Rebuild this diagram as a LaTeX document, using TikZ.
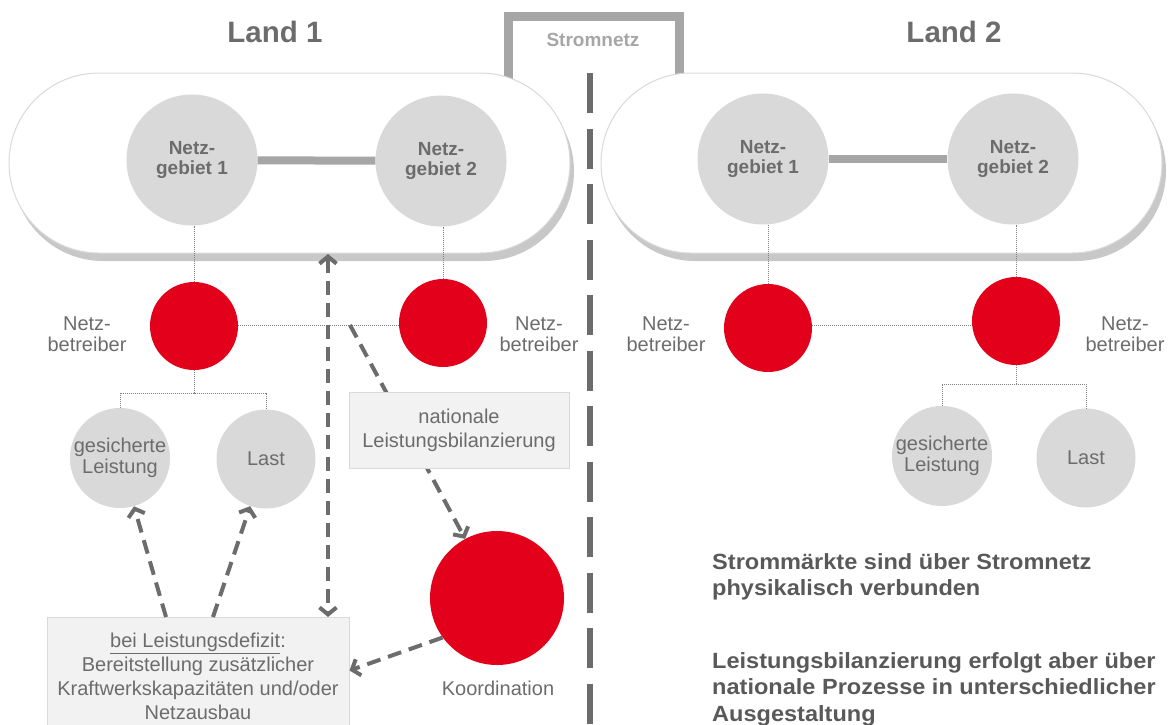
\documentclass[tikz,border=0pt]{standalone}
\usepackage{fontspec}
\setmainfont{Liberation Sans}
\newfontfamily\widebold[FakeStretch=1.07]{Liberation Sans Bold}
\usetikzlibrary{arrows.meta,shadows}
\definecolor{cred}{RGB}{227,0,26}
\definecolor{cgray}{RGB}{217,217,217}
\definecolor{bargray}{RGB}{166,166,166}
\definecolor{tgray}{RGB}{108,108,108}
\definecolor{dgray}{RGB}{108,108,108}
\definecolor{boxfill}{RGB}{242,242,242}
\definecolor{boxline}{RGB}{217,217,217}
\definecolor{shgray}{RGB}{200,200,200}
\definecolor{dotgray}{RGB}{128,128,128}
\definecolor{btext}{RGB}{89,89,89}
\begin{document}
\begin{tikzpicture}[x=1pt,y=-1pt,
  >={Straight Barb[length=7pt,width=17pt]},
  ttl/.style={font=\fontsize{29.5}{32}\selectfont\bfseries, text=tgray, inner sep=0pt},
  strtxt/.style={font=\fontsize{19}{21}\selectfont\bfseries, text=bargray, inner sep=0pt},
  pillbox/.style={draw=boxline, line width=1pt, fill=white, rounded corners=90pt,
    minimum width=561pt, minimum height=180pt, inner sep=0pt,
    drop shadow={shadow xshift=4pt, shadow yshift=-8pt, fill=shgray, opacity=1}},
  ng/.style={circle, fill=cgray, minimum size=131pt, inner sep=0pt, align=center,
    text=tgray, font=\fontsize{19}{20}\selectfont\bfseries},
  nb/.style={circle, fill=cred, minimum size=88pt, inner sep=0pt},
  gl/.style={circle, fill=cgray, minimum size=99pt, inner sep=0pt, align=center,
    text=tgray, font=\fontsize{20}{21}\selectfont},
  lbl/.style={font=\fontsize{20}{21.5}\selectfont, text=tgray, align=center, inner sep=0pt},
  nbox/.style={fill=boxfill, draw=boxline, line width=1pt, align=center, inner sep=0pt,
    text=tgray, font=\fontsize{20}{24}\selectfont},
  rtext/.style={font=\widebold\fontsize{22}{26.5}\selectfont, text=btext, align=left, inner sep=0pt},
  bracket/.style={draw=bargray, line width=9pt, line join=miter},
  bar/.style={draw=bargray, line width=8pt},
  midline/.style={draw=dgray, line width=6pt, dash pattern=on 40pt off 15.5pt},
  dotl/.style={draw=dotgray, line width=1pt, dash pattern=on 1pt off 1pt},
  darr/.style={draw=dgray, line width=4pt, dash pattern=on 14pt off 8pt}
]
\useasboundingbox (0,0) rectangle (1169,724);
\clip (0,0) rectangle (1169,724);

% titles
\node[ttl] (t1) at (275,32) {Land 1};
\node[ttl] (t2) at (954,32) {Land 2};

% Stromnetz bracket
\coordinate (sa) at (508.5,95);
\coordinate (sb) at (679,95);
\draw[bracket] (sa) -- (508.5,16.5) -- (679,16.5) -- (sb);
\node[strtxt] (snetz) at (593,40) {Stromnetz};

% country pills
\node[pillbox] (land1) at (289.5,163) {};
\node[pillbox] (land2) at (881.5,163) {};

% border line
\coordinate (ma) at (589.5,73);
\coordinate (mb) at (589.5,730);
\draw[midline] (ma) -- (mb);

\coordinate (hy) at (0,325);

% ---------- Land 1 ----------
\node[ng] (ng11) at (192,160) {Netz-\\gebiet 1};
\node[ng] (ng12) at (441,161) {Netz-\\gebiet 2};
\draw[bar] (ng11) -- (ng12);

\node[nb] (nb11) at (194,326) {};
\node[nb] (nb12) at (443,323) {};
\draw[dotl] (nb11.north) -- (nb11.north |- ng11.south);
\draw[dotl] (nb12.north) -- (nb12.north |- ng12.south);
\draw[dotl] (nb11.east |- hy) -- (nb12.west |- hy);

\node[lbl] (lb11) at (87,334) {Netz-\\betreiber};
\node[lbl] (lb12) at (539,334) {Netz-\\betreiber};

\node[gl] (gl11) at (120,458) {gesicherte\\Leistung};
\node[gl] (la11) at (266,459) {Last};
\coordinate (tr1) at (194,393);
\draw[dotl] (nb11.south) -- (tr1);
\draw[dotl] (gl11.north) |- (tr1) -| (la11.north);

\node[nb, minimum size=134pt] (koord) at (497,598) {};
\node[lbl] (klbl) at (498,688) {Koordination};

\coordinate (nl) at (350,325);
\draw[darr,->] (nl) -- (koord);
\node[nbox, minimum width=220pt, minimum height=76pt] (nat) at (459,430) {nationale\\Leistungsbilanzierung};

\node[nbox, minimum width=302pt, minimum height=118pt, anchor=north] (defbox) at (198,617)
  {\underline{bei Leistungsdefizit}:\\Bereitstellung zusätzlicher\\Kraftwerkskapazitäten und/oder\\Netzausbau};

\coordinate (va) at (328,254);
\coordinate (vb) at (328,617);
\draw[darr,<->] (va) -- (vb);
\coordinate (a1) at (166,617);
\coordinate (a2) at (213,617);
\draw[darr,->] (a1) -- (gl11);
\draw[darr,->] (a2) -- (la11);
\draw[darr,->] (koord.216) -- ([yshift=6pt]defbox.east);

% ---------- Land 2 ----------
\node[ng] (ng21) at (763,159) {Netz-\\gebiet 1};
\node[ng] (ng22) at (1013,159) {Netz-\\gebiet 2};
\draw[bar] (ng21) -- (ng22);

\node[nb] (nb21) at (768,328) {};
\node[nb] (nb22) at (1016,321) {};
\draw[dotl] (nb21.north) -- (nb21.north |- ng21.south);
\draw[dotl] (nb22.north) -- (nb22.north |- ng22.south);
\draw[dotl] (nb21.east |- hy) -- (nb22.west |- hy);

\node[lbl] (lb21) at (666,334) {Netz-\\betreiber};
\node[lbl] (lb22) at (1125,334) {Netz-\\betreiber};

\node[gl] (gl22) at (942,456) {gesicherte\\Leistung};
\node[gl] (la22) at (1086,458) {Last};
\coordinate (tr2) at (1016,384);
\draw[dotl] (nb22.south) -- (tr2);
\draw[dotl] (gl22.north) |- (tr2) -| (la22.north);

% statements
\node[rtext, anchor=west] (r1) at (712,577) {Strommärkte sind über Stromnetz\\physikalisch verbunden};
\node[rtext, anchor=west] (r2) at (712,689) {Leistungsbilanzierung erfolgt aber über\\nationale Prozesse in unterschiedlicher\\Ausgestaltung};
\end{tikzpicture}
\end{document}
